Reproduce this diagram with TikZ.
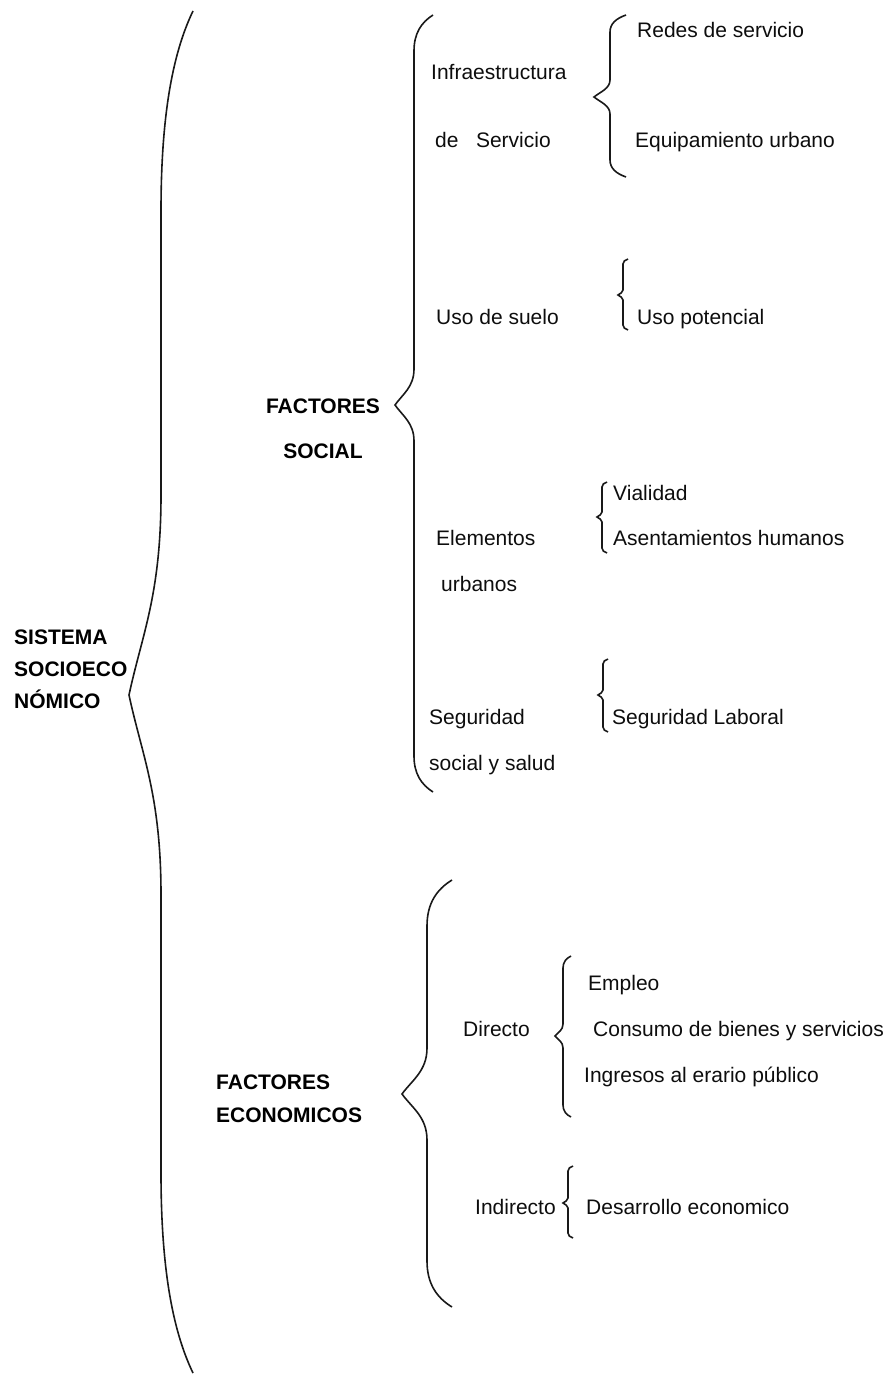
\documentclass[tikz,border=0pt]{standalone}
\usepackage{fontspec}
\setmainfont{Liberation Sans}
\newcommand{\llave}[6]{%
  \draw[llave] (#1+#5,#2) .. controls (#1+0.4*#5,#2+0.2*#6) and (#1,#2+0.5*#6) .. (#1,#2+#6)
    -- (#1,#3-#6) .. controls (#1,#3-0.5*#6) and (#1-0.6*#5,#3-0.3*#6) .. (#1-#5,#3)
    .. controls (#1-0.6*#5,#3+0.3*#6) and (#1,#3+0.5*#6) .. (#1,#3+#6)
    -- (#1,#4-#6) .. controls (#1,#4-0.5*#6) and (#1+0.4*#5,#4-0.2*#6) .. (#1+#5,#4);}
\begin{document}
\begin{tikzpicture}[x=1pt,y=-1pt]
        \tikzstyle{llave}=[draw=black!90,line width=1.6pt]
        \tikzstyle{item}=[inner sep=0pt,text=black!95,font=\fontsize{21}{25}\selectfont]
        \tikzstyle{titulo}=[inner sep=0pt,text=black,font=\fontsize{21}{25}\selectfont\bfseries]
        \useasboundingbox (0,0) rectangle (889,1375);
        \begin{scope}
         \node [titulo,anchor=north west,align=left] (sistema) at (14,630) {SISTEMA\\[7pt]SOCIOECO\\[7pt]NÓMICO};
         \node [titulo,anchor=north,align=center] (fsocial) at (323,399) {FACTORES\\[20pt]SOCIAL};
         \node [titulo,anchor=north west,align=left] (feco) at (216,1075) {FACTORES\\[8pt]ECONOMICOS};
         \node [item,anchor=north west,align=left] (infra) at (431,64) {Infraestructura\\[43pt]\hspace{4pt}de\ \ \ Servicio};
         \node [item,anchor=base west] (usosuelo) at (436,324.5) {Uso de suelo};
         \node [item,anchor=north west,align=left] (elem) at (436,530) {Elementos\\[21pt]\hspace{5pt}urbanos};
         \node [item,anchor=north west,align=left] (segsoc) at (429,709) {Seguridad\\[21pt]social y salud};
         \node [item,anchor=base west] (redes) at (637,37.5) {Redes de servicio};
         \node [item,anchor=base west] (equip) at (635,147.5) {Equipamiento urbano};
         \node [item,anchor=base west] (usopot) at (637,324.5) {Uso potencial};
         \node [item,anchor=base west] (vial) at (613,500.5) {Vialidad};
         \node [item,anchor=base west] (asent) at (613,545.5) {Asentamientos humanos};
         \node [item,anchor=base west] (seglab) at (612,724.5) {Seguridad Laboral};
         \node [item,anchor=base west] (directo) at (463,1036.5) {Directo};
         \node [item,anchor=base west] (indirecto) at (475,1214.5) {Indirecto};
         \node [item,anchor=base west] (empleo) at (588,990.5) {Empleo};
         \node [item,anchor=base west] (consumo) at (593,1036.5) {Consumo de bienes y servicios};
         \node [item,anchor=base west] (ingresos) at (584,1082.5) {Ingresos al erario público};
         \node [item,anchor=base west] (desarrollo) at (586,1214.5) {Desarrollo economico};
         \llave{161}{11}{695}{1373}{32}{200}
         \llave{414}{15}{405}{792}{19}{36}
         \llave{610}{15}{97}{177}{16}{17}
         \llave{623}{259}{295}{330}{5}{5}
         \llave{602}{482}{517}{553}{5}{5}
         \llave{603}{659}{695}{732}{5}{5}
         \llave{427}{880}{1094}{1307}{25}{46}
         \llave{563}{956}{1036}{1117}{8}{12}
         \llave{568}{1166}{1203}{1238}{5}{5}
        \end{scope}
      \end{tikzpicture}
\end{document}
